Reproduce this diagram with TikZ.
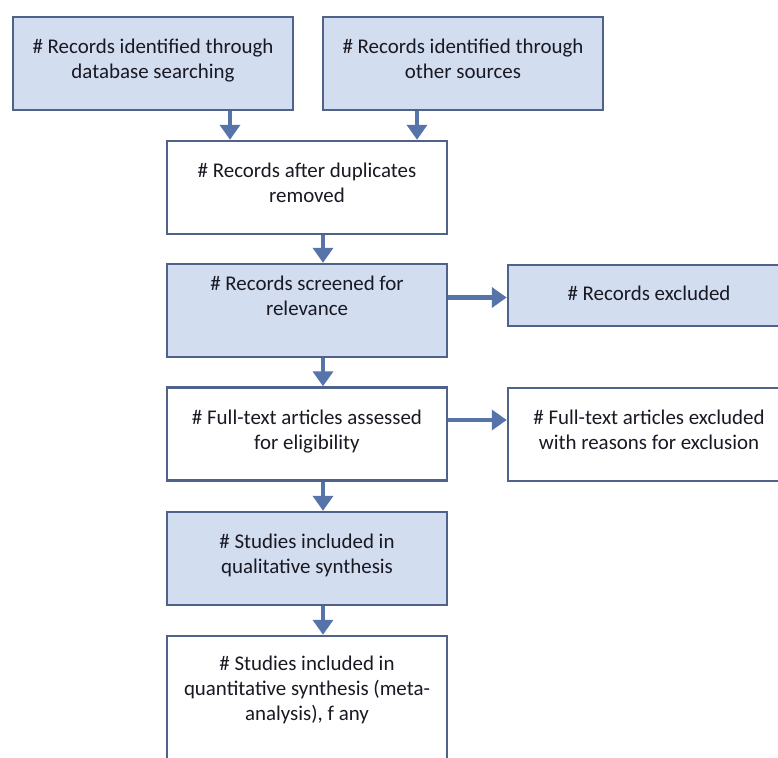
\documentclass[tikz,border=0pt]{standalone}
\usepackage{fontspec}
\setmainfont{Carlito}
\usepackage{tikz}
\usetikzlibrary{arrows.meta,positioning,calc}
\definecolor{boxblue}{RGB}{210,221,240}
\definecolor{boxline}{RGB}{78,98,138}
\definecolor{flowblue}{RGB}{86,116,170}
\definecolor{ink}{RGB}{25,25,35}

\begin{document}
\begin{tikzpicture}[x=1bp, y=-1bp,
  box/.style={draw=boxline, line width=2.5bp, minimum width=280bp, minimum height=93bp,
    align=center, font=\fontsize{21}{25}\selectfont, text=ink, text depth=9bp, inner sep=0pt},
  bluebox/.style={box, fill=boxblue},
  whitebox/.style={box, fill=white},
  flow/.style={draw=flowblue, line width=4.5bp, -{Triangle[length=15bp, width=20bp]}}]
  \useasboundingbox (0,0) rectangle (778,758);
  \clip (0,0) rectangle (778,758);
  \fill[white] (0,0) rectangle (778,758);

  \node[bluebox] at (153, 63.5) (dbsearch) {\# Records identified through\\database searching};
  \node[bluebox] at (463, 63.5) (othersrc) {\# Records identified through\\other sources};
  \node[whitebox] at (307, 187.5) (dedup) {\# Records after duplicates\\removed};
  \node[bluebox, text depth=30bp] at (307, 310.5) (screened) {\# Records screened for\\relevance};
  \node[bluebox, minimum width=282bp, minimum height=61bp, text depth=5bp] at (649, 295.5) (excl) {\# Records excluded};
  \node[whitebox] at (307, 434) (fulltext) {\# Full-text articles assessed\\for eligibility};
  \node[whitebox, minimum width=282bp] at (649, 434.5) (ftexcl) {\# Full-text articles excluded\\with reasons for exclusion};
  \node[bluebox] at (307, 558.5) (qual) {\# Studies included in\\qualitative synthesis};
  \node[whitebox, minimum height=150bp, text depth=46bp] at (307, 711) (quant) {\# Studies included in\\quantitative synthesis (meta-\\analysis), f any};

  \draw[flow] ([xshift=77bp]dbsearch.south) -- ([xshift=77bp]dbsearch.south |- dedup.north);
  \draw[flow] ([xshift=-46bp]othersrc.south) -- ([xshift=-46bp]othersrc.south |- dedup.north);
  \draw[flow] ([xshift=16bp]dedup.south) -- ([xshift=16bp]screened.north);
  \draw[flow] ([xshift=16bp]screened.south) -- ([xshift=16bp]fulltext.north);
  \draw[flow] ([xshift=16bp]fulltext.south) -- ([xshift=16bp]qual.north);
  \draw[flow] ([xshift=16bp]qual.south) -- ([xshift=16bp]quant.north);
  \draw[flow] ([yshift=13bp]screened.east) -- ([yshift=13bp]screened.east -| excl.west);
  \draw[flow] ([yshift=14bp]fulltext.east) -- ([yshift=14bp]fulltext.east -| ftexcl.west);
\end{tikzpicture}
\end{document}
